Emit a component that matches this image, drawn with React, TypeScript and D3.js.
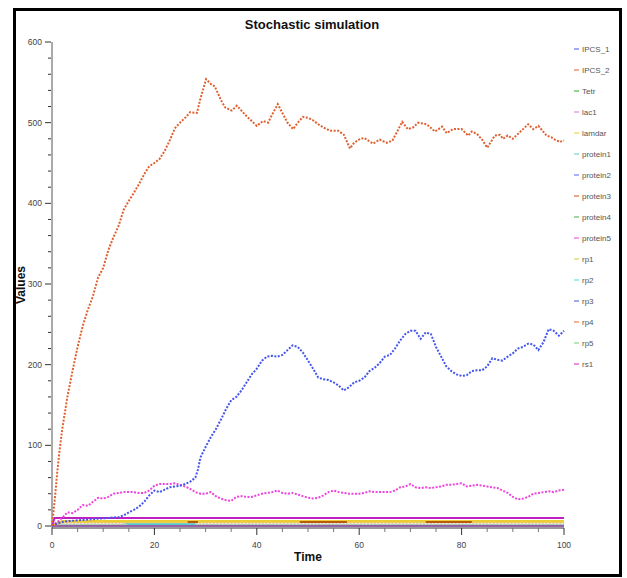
import React from "react";
import * as d3 from "d3";

const W = 627;
const H = 578;

const seriesNames = ["IPCS_1", "IPCS_2", "Tetr", "lac1", "lamdar", "protein1", "protein2", "protein3", "protein4", "protein5", "rp1", "rp2", "rp3", "rp4", "rp5", "rs1"];
const seriesColors = ["#4455ee", "#e06030", "#22aa22", "#dd77dd", "#eecc33", "#55cccc", "#5566ee", "#cc5511", "#44aa44", "#ee44dd", "#cccc44", "#44dddd", "#4455dd", "#ee6622", "#77cc77", "#cc22bb"];

const xTicks = [0, 20, 40, 60, 80, 100];
const yTicks = [0, 100, 200, 300, 400, 500, 600];

const ipcs2T = [0, 0.5, 1, 1.5, 2, 3, 4, 5, 6, 7, 8, 9, 10, 11, 12, 13, 14, 15, 16, 17, 18, 19, 20, 21, 22, 23, 24, 25, 26, 27, 28.3, 29, 30.1, 31, 31.8, 33, 33.8, 35.1, 36.1, 37, 38, 39, 40, 41.2, 42.2, 43, 44.1, 45, 46, 47.1, 48, 49, 50, 51, 52, 53, 54.3, 55.9, 57, 58.2, 59, 60.2, 61, 62.7, 64, 65.4, 66.5, 67.5, 68.4, 69.5, 70.5, 71.5, 73.2, 74.8, 76.2, 77.1, 78.3, 80, 81.3, 82, 83, 84, 85, 86.5, 87.5, 88.1, 89, 90, 91, 92, 93, 94, 95, 96.6, 97.5, 98.2, 99.2, 100];
const ipcs2V = [0, 30, 65, 95, 120, 160, 192, 222, 248, 268, 285, 308, 320, 342, 358, 372, 392, 403, 413, 424, 436, 446, 450, 455, 465, 478, 493, 500, 506, 513, 512, 530, 554, 548, 545, 528, 519, 515, 521, 515, 508, 502, 496, 502, 500, 510, 523, 512, 500, 492, 500, 507, 506, 503, 498, 494, 490, 490, 485, 468, 475, 480, 481, 474, 479, 475, 478, 490, 501, 492, 494, 500, 498, 489, 495, 487, 492, 492, 484, 489, 486, 479, 469, 484, 485, 480, 484, 480, 486, 492, 498, 492, 496, 484, 482, 479, 476, 478];

const ipcs1T = [0, 1, 2, 3, 5, 7, 9, 11, 13, 14, 15, 16, 17, 18, 19, 20, 21, 22, 23, 24, 25, 26, 27, 28, 28.5, 29, 30, 31, 32, 33, 34, 35, 36, 37, 38, 39, 40, 41, 42, 43, 44, 45, 46, 47, 48, 49, 50, 51, 52, 53, 54, 55, 56, 57, 58, 59, 60, 61, 62, 63, 64, 65, 66, 67, 68, 69, 70, 71, 72, 73, 74, 75, 76, 77, 78, 79, 80, 81, 82, 83, 84, 85, 86, 87, 88, 89, 90, 91, 92, 93, 94, 95, 96, 97, 98, 99, 100];
const ipcs1V = [0, 3, 5, 6, 7, 8, 9, 10, 11, 13, 17, 20, 24, 30, 38, 44, 42, 45, 48, 49, 50, 52, 55, 60, 70, 85, 98, 110, 120, 132, 145, 156, 160, 168, 178, 188, 195, 205, 210, 211, 210, 212, 218, 224, 222, 215, 205, 195, 184, 182, 181, 178, 174, 168, 172, 178, 180, 184, 192, 196, 202, 210, 212, 220, 230, 238, 242, 242, 232, 240, 238, 222, 210, 198, 192, 188, 186, 187, 192, 193, 193, 198, 208, 206, 205, 210, 214, 220, 222, 226, 225, 218, 228, 244, 242, 236, 242];

const protein5T = [0, 1, 2, 3, 4, 5, 6, 7, 8, 9, 10, 11, 12, 13, 14, 15, 16, 17, 18, 19, 20, 21, 22, 23, 24, 25, 26, 27, 28, 29, 30, 31, 32, 33, 34, 35, 36, 37, 38, 39, 40, 41, 42, 43, 44, 45, 46, 47, 48, 49, 50, 51, 52, 53, 54, 55, 56, 57, 58, 59, 60, 61, 62, 63, 64, 65, 66, 67, 68, 69, 70, 71, 72, 73, 74, 75, 76, 77, 78, 79, 80, 81, 82, 83, 84, 85, 86, 87, 88, 89, 90, 91, 92, 93, 94, 95, 96, 97, 98, 99, 100];
const protein5V = [0, 5, 10, 17, 16, 20, 26, 25, 30, 35, 34, 36, 40, 41, 42, 42, 42, 41, 41, 44, 50, 52, 52, 52, 53, 51, 49, 46, 42, 40, 40, 42, 37, 34, 32, 31, 36, 37, 36, 36, 38, 40, 41, 42, 44, 41, 40, 41, 39, 37, 35, 34, 35, 38, 42, 44, 42, 41, 40, 40, 40, 41, 43, 42, 42, 42, 42, 44, 48, 49, 52, 48, 47, 48, 47, 48, 49, 51, 51, 52, 53, 49, 50, 51, 50, 49, 48, 47, 44, 41, 36, 33, 34, 36, 40, 41, 42, 43, 42, 44, 45];

const rs1T = [0, 0.5, 100];
const rs1V = [0, 10, 10];
const lamdarT = [0, 2, 100];
const lamdarV = [0, 6, 6];
const rp1T = [0, 2, 100];
const rp1V = [0, 4.5, 4.5];
const protein1T = [0, 2, 14, 15, 28];
const protein1V = [0, 5, 5, 2.5, 2.5];
const rp2T = [0, 100];
const rp2V = [0, 0];
// gaps are null: the band only shows in these stretches
const protein3T = [26.5, 28.5, 28.6, 48.4, 57.6, 57.7, 73, 82];
const protein3V = [5, 5, null, 5, 5, null, 5, 5];
const tetrT = [0, 100];
const tetrV = [1, 1];
const lac1T = [0, 100];
const lac1V = [0, 0];
const protein2T = [0, 100];
const protein2V = [1, 1];
const protein4T = [0, 100];
const protein4V = [1.5, 1.5];
const rp3T = [0, 100];
const rp3V = [0, 0];
const rp4T = [0, 100];
const rp4V = [0, 0];
const rp5T = [0, 100];
const rp5V = [3, 3];

type S = { name: string; t: number[]; v: (number | null)[]; dotted: boolean; w: number; op?: number; col?: string };

const drawOrder: S[] = [
  { name: "rp3", t: rp3T, v: rp3V, dotted: false, w: 1.5 },
  { name: "rp4", t: rp4T, v: rp4V, dotted: false, w: 1.5 },
  { name: "rp2", t: rp2T, v: rp2V, dotted: false, w: 1.5 },
  { name: "Tetr", t: tetrT, v: tetrV, dotted: false, w: 1, op: 0.5 },
  { name: "protein2", t: protein2T, v: protein2V, dotted: false, w: 1, op: 0.4 },
  { name: "protein4", t: protein4T, v: protein4V, dotted: false, w: 1, op: 0.4 },
  { name: "rp5", t: rp5T, v: rp5V, dotted: true, w: 1.5, col: "#cccccc" },
  { name: "protein1", t: protein1T, v: protein1V, dotted: false, w: 2 },
  { name: "rp1", t: rp1T, v: rp1V, dotted: false, w: 2, col: "#eed080" },
  { name: "lamdar", t: lamdarT, v: lamdarV, dotted: false, w: 2.5 },
  { name: "protein3", t: protein3T, v: protein3V, dotted: false, w: 2, col: "#b85a10" },
  { name: "lac1", t: lac1T, v: lac1V, dotted: false, w: 1.5, col: "#aa44aa" },
  { name: "rs1", t: rs1T, v: rs1V, dotted: false, w: 2, col: "#c020c0" },
  { name: "protein5", t: protein5T, v: protein5V, dotted: true, w: 2 },
  { name: "IPCS_1", t: ipcs1T, v: ipcs1V, dotted: true, w: 2 },
  { name: "IPCS_2", t: ipcs2T, v: ipcs2V, dotted: true, w: 2 },
];

export default function App() {
  const x = d3.scaleLinear().domain([0, 100]).range([52, 564]);
  const y = d3.scaleLinear().domain([0, 600]).range([526, 42]);
  const color = d3.scaleOrdinal<string, string>().domain(seriesNames).range(seriesColors);
  const axisY = 528;

  const minorX = d3.range(0, 101, 5);
  const minorY = d3.range(0, 601, 20);

  const font = "'Liberation Sans', Arial, sans-serif";

  return (
    <svg width={W} height={H} style={{ position: "absolute", left: 0, top: 0, background: "#fff" }} fontFamily={font}>
      <rect x={0} y={0} width={W} height={H} fill="#fff" />
      <rect x={14.5} y={9.5} width={606} height={566} fill="none" stroke="#000" strokeWidth={3} />
      <text x={312} y={29} textAnchor="middle" fontSize={13} fontWeight="bold" fill="#111">Stochastic simulation</text>

      {/* Y axis */}
      <line x1={x(0)} x2={x(0)} y1={y(600)} y2={axisY} stroke="#aaa" strokeWidth={2} />
      {minorY.map((v) => (
        <line key={"ym" + v} x1={v % 100 === 0 ? 45 : 48} x2={51} y1={y(v)} y2={y(v)} stroke="#333" strokeWidth={1} />
      ))}
      {yTicks.map((v) => (
        <text key={"yt" + v} x={42} y={y(v) + 3} textAnchor="end" fontSize={8.5} fill="#444">{v}</text>
      ))}
      <text transform={`translate(25,${(y(600) + axisY) / 2}) rotate(-90)`} textAnchor="middle" fontSize={12} fontWeight="bold" fill="#111">Values</text>

      {/* X axis */}
      <line x1={x(0)} x2={x(100)} y1={axisY} y2={axisY} stroke="#333" strokeWidth={1} />
      {minorX.map((v) => (
        <line key={"xm" + v} x1={x(v)} x2={x(v)} y1={axisY} y2={v % 20 === 0 ? axisY + 7 : axisY + 4} stroke={v % 20 === 0 ? "#333" : "#777"} strokeWidth={1} />
      ))}
      {xTicks.map((v) => (
        <text key={"xt" + v} x={x(v)} y={548} textAnchor="middle" fontSize={8.5} fill="#444">{v}</text>
      ))}
      <text x={(x(0) + x(100)) / 2} y={561} textAnchor="middle" fontSize={12} fontWeight="bold" fill="#111">Time</text>

      {/* series */}
      {drawOrder.map((s) => {
        const pts: [number, number | null][] = s.t.map((t, i) => [t, s.v[i]]);
        const line = d3.line<[number, number | null]>()
          .defined((d) => d[1] !== null)
          .x((d) => x(d[0]))
          .y((d) => y(d[1] as number));
        return (
          <path key={s.name} d={line(pts) || ""} fill="none" stroke={s.col || color(s.name)} strokeWidth={s.w}
            strokeOpacity={s.op ?? 1} strokeDasharray={s.dotted ? "2,1.5" : undefined} />
        );
      })}

      {/* legend */}
      {seriesNames.map((n, i) => (
        <g key={"lg" + n} transform={`translate(0,${49 + i * 21})`}>
          <line x1={574} x2={579} y1={0} y2={0} stroke={color(n)} strokeWidth={1} />
          <text x={582} y={3} fontSize={8} fill="#555">{n}</text>
        </g>
      ))}
    </svg>
  );
}
